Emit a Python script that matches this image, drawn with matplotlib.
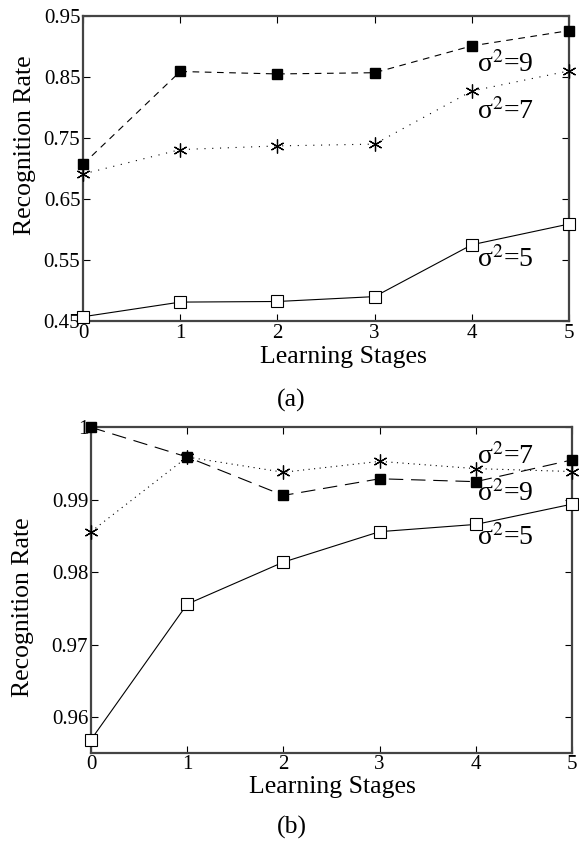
import matplotlib
matplotlib.use("Agg")
import matplotlib.pyplot as plt

plt.rcParams["font.family"] = ["Liberation Serif", "DejaVu Serif"]
plt.rcParams["mathtext.fontset"] = "stix"

stages = [0, 1, 2, 3, 4, 5]

# (a)
a_s9 = [0.707, 0.859, 0.855, 0.857, 0.901, 0.926]
a_s7 = [0.691, 0.731, 0.737, 0.740, 0.827, 0.860]
a_s5 = [0.457, 0.481, 0.482, 0.490, 0.575, 0.609]
a_yticks = [0.45, 0.55, 0.65, 0.75, 0.85, 0.95]
a_yticklabels = ["0.45", "0.55", "0.65", "0.75", "0.85", "0.95"]

# (b)
b_s9 = [1.0, 0.9959, 0.9906, 0.9929, 0.9925, 0.9955]
b_s7 = [0.9856, 0.9959, 0.9938, 0.9953, 0.9943, 0.9939]
b_s5 = [0.9569, 0.9756, 0.9814, 0.9856, 0.9866, 0.9894]
b_yticks = [0.96, 0.97, 0.98, 0.99, 1.0]
b_yticklabels = ["0.96", "0.97", "0.98", "0.99", "1"]

asterisk = (6, 2, 0)


def style_axes(ax, yticks, yticklabels, ylim, xlab_pos, ylab_pos):
    ax.set_xlim(0, 5)
    ax.set_ylim(*ylim)
    ax.set_xticks(stages)
    ax.set_yticks(yticks)
    ax.set_yticklabels(yticklabels)
    ax.tick_params(direction="in", top=True, right=True, length=5,
                   labelsize=15, width=0.8, pad=2)
    for sp in ax.spines.values():
        sp.set_linewidth(1.6)
        sp.set_color("#444444")
    ax.set_xlabel("Learning Stages", fontsize=18.5)
    ax.set_ylabel("Recognition Rate", fontsize=18.5)
    ax.xaxis.set_label_coords(*xlab_pos)
    ax.yaxis.set_label_coords(*ylab_pos)
    ax.xaxis.label.set_va("center")
    ax.yaxis.label.set_va("center")


def draw_series(ax, s9, s7, s5, dash9, dot7):
    ax.plot(stages, s9, color="k", lw=0.8, ls=(0, dash9), marker="s",
            ms=7.5, mfc="k", mec="k", clip_on=False, zorder=3)
    ax.plot(stages, s7, color="k", lw=0.8, ls=(0, dot7), marker=asterisk,
            ms=10, mec="k", mew=0.9, clip_on=False, zorder=3)
    ax.plot(stages, s5, color="k", lw=0.8, ls="-", marker="s",
            ms=8, mfc="white", mec="k", mew=0.8, clip_on=False, zorder=3)


fig = plt.figure(figsize=(5.79, 8.41), dpi=100)

ax1 = fig.add_axes([0.1434, 0.6183, 0.8394, 0.3627])
draw_series(ax1, a_s9, a_s7, a_s5, (6, 5), (1, 6))
style_axes(ax1, a_yticks, a_yticklabels, (0.45, 0.95),
           (0.535, -0.118), (-0.119, 0.575))
ax1.text(4.05, 0.870, "σ$^2$=9", fontsize=20, va="center")
ax1.text(4.05, 0.793, "σ$^2$=7", fontsize=20, va="center")
ax1.text(4.05, 0.550, "σ$^2$=5", fontsize=20, va="center")
fig.text(291 / 579, 1 - 400 / 841, "(a)", fontsize=18.5,
         ha="center", va="center")

ax2 = fig.add_axes([0.1572, 0.1050, 0.8307, 0.3869])
draw_series(ax2, b_s9, b_s7, b_s5, (13, 7), (1, 4))
style_axes(ax2, b_yticks, b_yticklabels, (0.9551, 1.0),
           (0.501, -0.105), (-0.141, 0.448))
ax2.text(4.01, 0.9959, "σ$^2$=7", fontsize=20, va="center")
ax2.text(4.01, 0.9908, "σ$^2$=9", fontsize=20, va="center")
ax2.text(4.01, 0.9848, "σ$^2$=5", fontsize=20, va="center")
fig.text(292 / 579, 1 - 827 / 841, "(b)", fontsize=18.5,
         ha="center", va="center")

fig.savefig("out.png", dpi=100)
